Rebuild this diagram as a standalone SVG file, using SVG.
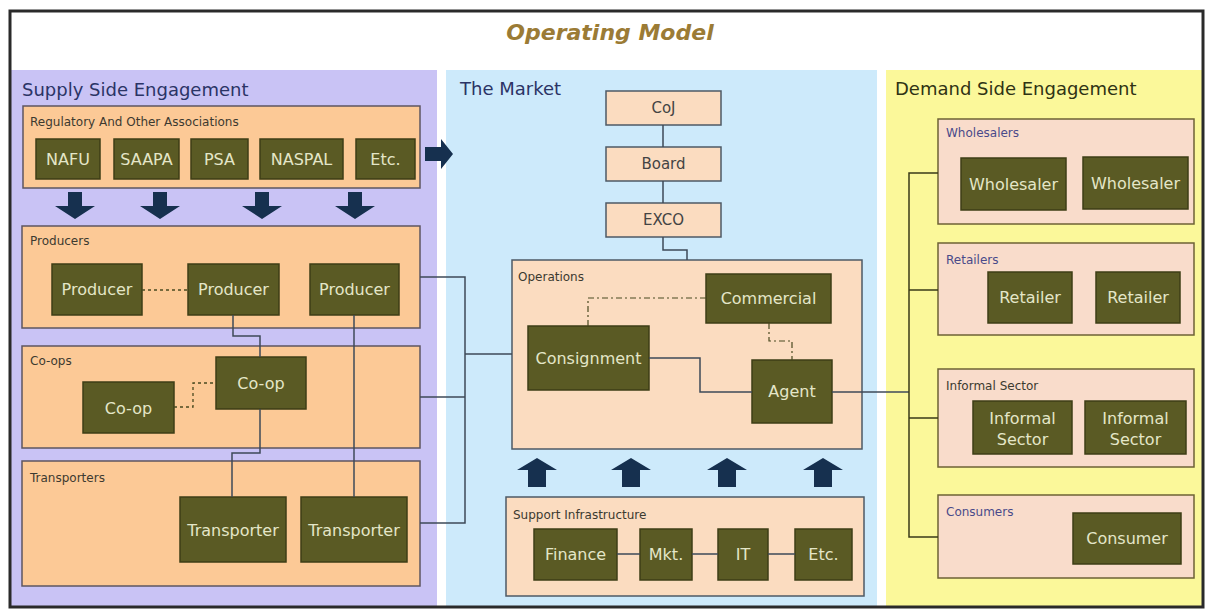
<svg xmlns="http://www.w3.org/2000/svg" width="1208" height="610" viewBox="0 0 1208 610">
<defs>
<style>
text{font-family:"DejaVu Sans","Liberation Sans",sans-serif}
.dk{fill:#5a5a24;stroke:#3e3e16;stroke-width:1.5}
.dt{fill:#e4e6c8;font-size:16px;text-anchor:middle}
.sup{fill:#fcc996;stroke:#5e5660;stroke-width:1.5}
.mkt{fill:#fbdcc0;stroke:#4e5a66;stroke-width:1.5}
.dem{fill:#f9dccb;stroke:#6e6236;stroke-width:1.5}
.lbl{font-size:12px;fill:#3c3a30}
.sec{font-size:18px;fill:#2b3466}
.ln{fill:none;stroke:#3e4a58;stroke-width:1.5}
.dl{fill:none;stroke:#3a3a18;stroke-width:1.5}
.dot{fill:none;stroke:#4a4a20;stroke-width:1.3;stroke-dasharray:3 3}
.dd{fill:none;stroke:#4a4a20;stroke-width:1.2;stroke-dasharray:6 3 2 3}
.arr{fill:#16304f}
.mt{fill:#444;font-size:15px;text-anchor:middle}
</style>
</defs>
<rect x="0" y="0" width="1208" height="610" fill="#fff"/>
<rect x="11" y="70" width="426" height="536" fill="#c9c3f5"/>
<rect x="446" y="70" width="431" height="536" fill="#cdeafb"/>
<rect x="886" y="70" width="316" height="536" fill="#fbf89a"/>
<rect x="10" y="11" width="1193" height="596" fill="none" stroke="#2a2a2a" stroke-width="3"/>
<text x="610" y="40" font-size="22" font-weight="bold" font-style="italic" fill="#9b7b35" text-anchor="middle">Operating Model</text>
<text class="sec" x="22" y="96">Supply Side Engagement</text>
<text class="sec" x="460" y="95">The Market</text>
<text class="sec" x="895" y="95" style="fill:#2f3314">Demand Side Engagement</text>

<g id="regulatory">
<rect class="sup" x="23" y="106" width="397" height="82"/>
<text class="lbl" x="30" y="126">Regulatory And Other Associations</text>
</g>
<g id="nafu"><rect class="dk" x="36" y="139" width="64" height="40"/><text class="dt" x="68" y="165" font-size="15">NAFU</text></g>
<g id="saapa"><rect class="dk" x="114" y="139" width="65" height="40"/><text class="dt" x="146.5" y="165">SAAPA</text></g>
<g id="psa"><rect class="dk" x="191" y="139" width="57" height="40"/><text class="dt" x="219.5" y="165">PSA</text></g>
<g id="naspal"><rect class="dk" x="260" y="139" width="83" height="40"/><text class="dt" x="301.5" y="165">NASPAL</text></g>
<g id="etc1"><rect class="dk" x="356" y="139" width="59" height="40"/><text class="dt" x="385.5" y="165">Etc.</text></g>

<g id="producers">
<rect class="sup" x="22" y="226" width="398" height="102"/>
<text class="lbl" x="30" y="245">Producers</text>
</g>
<g id="producer1"><rect class="dk" x="52" y="264" width="90" height="51"/><text class="dt" x="97" y="295">Producer</text></g>
<g id="producer2"><rect class="dk" x="188" y="264" width="91" height="51"/><text class="dt" x="233.5" y="295">Producer</text></g>
<g id="producer3"><rect class="dk" x="310" y="264" width="89" height="51"/><text class="dt" x="354.5" y="295">Producer</text></g>

<g id="coops">
<rect class="sup" x="22" y="346" width="398" height="102"/>
<text class="lbl" x="30" y="365">Co-ops</text>
</g>
<g id="coop1"><rect class="dk" x="216" y="357" width="90" height="52"/><text class="dt" x="261" y="389">Co-op</text></g>
<g id="coop2"><rect class="dk" x="83" y="382" width="91" height="51"/><text class="dt" x="128.5" y="414">Co-op</text></g>

<g id="transporters">
<rect class="sup" x="22" y="461" width="398" height="125"/>
<text class="lbl" x="30" y="482">Transporters</text>
</g>
<g id="transporter1"><rect class="dk" x="180" y="497" width="106" height="65"/><text class="dt" x="233" y="536">Transporter</text></g>
<g id="transporter2"><rect class="dk" x="301" y="497" width="106" height="65"/><text class="dt" x="354" y="536">Transporter</text></g>

<g id="coj"><rect class="mkt" x="606" y="91" width="115" height="34"/><text class="mt" x="663.5" y="113">CoJ</text></g>
<g id="board"><rect class="mkt" x="606" y="147" width="115" height="34"/><text class="mt" x="663.5" y="169">Board</text></g>
<g id="exco"><rect class="mkt" x="606" y="203" width="115" height="34"/><text class="mt" x="663.5" y="225">EXCO</text></g>

<g id="operations">
<rect class="mkt" x="512" y="260" width="350" height="189"/>
<text class="lbl" x="518" y="281">Operations</text>
</g>
<g id="commercial"><rect class="dk" x="706" y="274" width="125" height="49"/><text class="dt" x="768.5" y="304">Commercial</text></g>
<g id="consignment"><rect class="dk" x="528" y="326" width="121" height="64"/><text class="dt" x="588.5" y="364" font-size="17">Consignment</text></g>
<g id="agent"><rect class="dk" x="752" y="360" width="80" height="63"/><text class="dt" x="792" y="397">Agent</text></g>

<g id="support">
<rect class="mkt" x="506" y="497" width="358" height="99"/>
<text class="lbl" x="513" y="519">Support Infrastructure</text>
</g>
<g id="finance"><rect class="dk" x="534" y="529" width="83" height="51"/><text class="dt" x="575.5" y="560">Finance</text></g>
<g id="mkt"><rect class="dk" x="640" y="529" width="52" height="51"/><text class="dt" x="666" y="560">Mkt.</text></g>
<g id="it"><rect class="dk" x="718" y="529" width="50" height="51"/><text class="dt" x="743" y="560">IT</text></g>
<g id="etc2"><rect class="dk" x="795" y="529" width="57" height="51"/><text class="dt" x="823.5" y="560">Etc.</text></g>

<g id="wholesalers">
<rect class="dem" x="938" y="119" width="256" height="105"/>
<text class="lbl" x="946" y="137" style="fill:#4a4a8a">Wholesalers</text>
</g>
<g id="wholesaler1"><rect class="dk" x="961" y="158" width="105" height="52"/><text class="dt" x="1013.5" y="190">Wholesaler</text></g>
<g id="wholesaler2"><rect class="dk" x="1083" y="157" width="105" height="52"/><text class="dt" x="1135.5" y="189">Wholesaler</text></g>

<g id="retailers">
<rect class="dem" x="938" y="243" width="256" height="92"/>
<text class="lbl" x="946" y="264" style="fill:#4a4a8a">Retailers</text>
</g>
<g id="retailer1"><rect class="dk" x="988" y="272" width="84" height="51"/><text class="dt" x="1030" y="303">Retailer</text></g>
<g id="retailer2"><rect class="dk" x="1096" y="272" width="84" height="51"/><text class="dt" x="1138" y="303">Retailer</text></g>

<g id="informal">
<rect class="dem" x="938" y="369" width="256" height="98"/>
<text class="lbl" x="946" y="390">Informal Sector</text>
</g>
<g id="informal1"><rect class="dk" x="973" y="401" width="99" height="53"/><text class="dt" x="1022.5" y="424">Informal</text><text class="dt" x="1022.5" y="445">Sector</text></g>
<g id="informal2"><rect class="dk" x="1085" y="401" width="101" height="53"/><text class="dt" x="1135.5" y="424">Informal</text><text class="dt" x="1135.5" y="445">Sector</text></g>

<g id="consumers">
<rect class="dem" x="938" y="495" width="256" height="83"/>
<text class="lbl" x="946" y="516" style="fill:#4a4a8a">Consumers</text>
</g>
<g id="consumer"><rect class="dk" x="1073" y="513" width="108" height="51"/><text class="dt" x="1127" y="544">Consumer</text></g>

<g id="connectors">
<path class="arr" d="M68 192h14v14h13l-20 13l-20-13h13z"/>
<path class="arr" d="M153 192h14v14h13l-20 13l-20-13h13z"/>
<path class="arr" d="M255 192h14v14h13l-20 13l-20-13h13z"/>
<path class="arr" d="M348 192h14v14h13l-20 13l-20-13h13z"/>
<path class="arr" d="M425 147h16v-8l12 15l-12 15v-8h-16z"/>
<path class="arr" d="M528 487v-17h-11l20-12l20 12h-11v17z"/>
<path class="arr" d="M622 487v-17h-11l20-12l20 12h-11v17z"/>
<path class="arr" d="M718 487v-17h-11l20-12l20 12h-11v17z"/>
<path class="arr" d="M814 487v-17h-11l20-12l20 12h-11v17z"/>

<path class="dot" d="M142 290H188"/>
<path class="dot" d="M174 407H193V383H216"/>
<path class="ln" d="M233 315V336H260V357"/>
<path class="ln" d="M260 409V453H232V497"/>
<path class="ln" d="M354 315V497"/>
<path class="ln" d="M420 277H465V523H420M420 397H465M465 354H512"/>
<path class="ln" d="M663 125V147M663 181V203M663 237V250H687V260"/>
<path class="dd" d="M706 298H588V326"/>
<path class="dd" d="M769 323V341H792V360"/>
<path class="ln" d="M649 358H700V392H752"/>
<path class="ln" d="M617 554H640M692 554H718M768 554H795"/>
<path class="ln" d="M832 392H909"/>
<path class="dl" d="M938 173H909V537H938M909 290H938M909 418H938"/>
</g>
</svg>
